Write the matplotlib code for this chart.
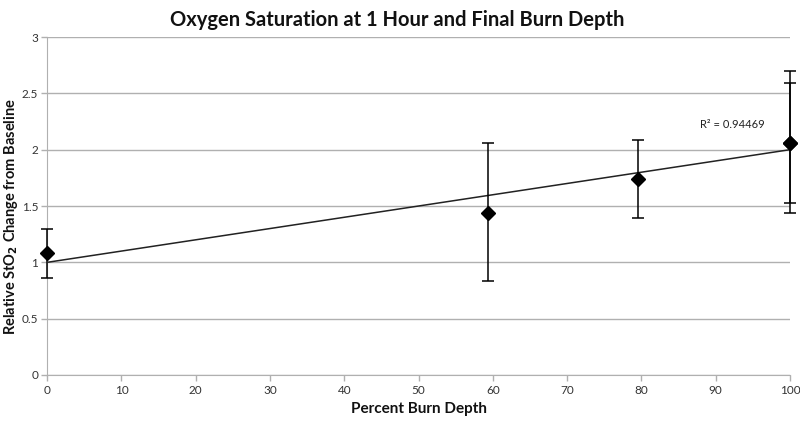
import matplotlib.pyplot as plt

plt.rcParams["font.family"] = ["Lato", "DejaVu Sans"]

# data
depth = [0, 59.4, 79.5, 100, 100]
sto2 = [1.08, 1.44, 1.74, 2.06, 2.06]
err_low = [0.86, 0.83, 1.39, 1.44, 1.53]
err_high = [1.30, 2.06, 2.09, 2.70, 2.59]

trend_x = [0, 100]
trend_slope = 0.01
trend_intercept = 1.0
r2_text = "R² = 0.94469"

fig = plt.figure(figsize=(8, 4.23), dpi=100)
ax = fig.add_axes([0.059, 0.1135, 0.9285, 0.799])

lo = [s - l for s, l in zip(sto2, err_low)]
hi = [h - s for s, h in zip(sto2, err_high)]
eb = ax.errorbar(depth, sto2, yerr=[lo, hi], fmt="D", color="black", markersize=7,
                 ecolor="black", elinewidth=1.1, capsize=4, capthick=1.1, zorder=3)
for art in eb.get_children():
    art.set_clip_on(False)

ax.plot(trend_x, [trend_intercept + trend_slope * x for x in trend_x],
        color="#222222", linewidth=1.1, zorder=2)
ax.text(87.9, 2.19, r2_text, fontsize=8, color="#222222")

ax.set_xlim(0, 100)
ax.set_ylim(0, 3)
ax.set_xticks(range(0, 101, 10))
ax.set_yticks([0, 0.5, 1, 1.5, 2, 2.5, 3])
ax.set_yticklabels(["0", "0.5", "1", "1.5", "2", "2.5", "3"])
ax.yaxis.grid(True, color="#b0b0b0", linewidth=1)
ax.set_axisbelow(True)
for s in ["top", "right"]:
    ax.spines[s].set_visible(False)
for s in ["left", "bottom"]:
    ax.spines[s].set_color("#b0b0b0")
ax.tick_params(axis="both", colors="#b0b0b0", labelcolor="#333333", labelsize=8.5,
               length=4, width=1)
ax.tick_params(axis="y", pad=2.5)

fig.text(0.497, 0.952, "Oxygen Saturation at 1 Hour and Final Burn Depth",
         fontsize=14.5, fontweight="bold", color="#111111", ha="center", va="center")
ax.set_xlabel("Percent Burn Depth", fontsize=11, fontweight="bold", color="#111111")
ax.set_ylabel("Relative StO$_\\mathbf{2}$ Change from Baseline", fontsize=10.5,
              fontweight="bold", color="#111111")
ax.yaxis.set_label_coords(-0.037, 0.47)

fig.savefig("out.png", dpi=100)
